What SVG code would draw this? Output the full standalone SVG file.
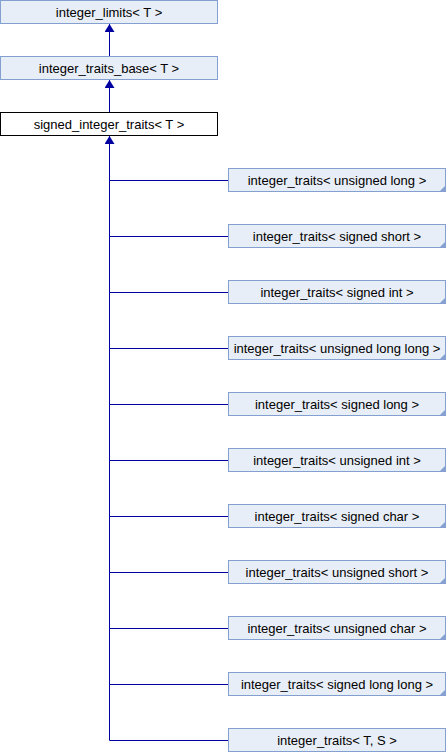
<svg xmlns="http://www.w3.org/2000/svg" width="446" height="752" viewBox="0 0 446 752">
<style>
.n{fill:#E8EEF7;stroke:#84A0D0;stroke-width:1}
.w{fill:#FFFFFF;stroke:#000000;stroke-width:1}
.c{fill:#84A0D0;stroke:none}
.t{font-family:"Liberation Sans",Arial,sans-serif;font-size:13px;fill:#000000;text-anchor:middle}
.e{fill:none;stroke:#0000A0;stroke-width:1}
</style>
<defs>
<marker id="a" viewBox="0 0 8 10" refX="8" refY="5" markerWidth="8" markerHeight="10" markerUnits="userSpaceOnUse" orient="auto">
<path d="M0,0 L8,5 L0,10 Z" fill="#0000A0"/>
</marker>
</defs>
<rect width="446" height="752" fill="#FFFFFF"/>
<g id="connectors">
<path class="e" d="M109.5,56 V24" marker-end="url(#a)"/>
<path class="e" d="M109.5,112 V80" marker-end="url(#a)"/>
<path class="e" d="M109.5,740.5 V136" marker-end="url(#a)"/>
<path class="e" d="M109.5,180.5 H228 M109.5,236.5 H228 M109.5,292.5 H228 M109.5,348.5 H228 M109.5,404.5 H228 M109.5,460.5 H228 M109.5,516.5 H228 M109.5,572.5 H228 M109.5,628.5 H228 M109.5,684.5 H228 M109.5,740.5 H228"/>
</g>
<g id="integer_limits">
<rect class="n" x="0.5" y="0.5" width="217" height="23"/>
<text class="t" x="109" y="16.5">integer_limits&lt; T &gt;</text>
</g>
<g id="integer_traits_base">
<rect class="n" x="0.5" y="56.5" width="217" height="23"/>
<text class="t" x="109" y="72.5">integer_traits_base&lt; T &gt;</text>
</g>
<g id="signed_integer_traits">
<rect class="w" x="0.5" y="112.5" width="217" height="23"/>
<text class="t" x="109" y="128.5">signed_integer_traits&lt; T &gt;</text>
</g>
<g id="it_unsigned_long">
<rect class="n" x="228.5" y="168.5" width="217" height="23"/>
<path class="c" d="M445,186 V191 H440 Z"/>
<text class="t" x="337" y="184.5">integer_traits&lt; unsigned long &gt;</text>
</g>
<g id="it_signed_short">
<rect class="n" x="228.5" y="224.5" width="217" height="23"/>
<path class="c" d="M445,242 V247 H440 Z"/>
<text class="t" x="337" y="240.5">integer_traits&lt; signed short &gt;</text>
</g>
<g id="it_signed_int">
<rect class="n" x="228.5" y="280.5" width="217" height="23"/>
<path class="c" d="M445,298 V303 H440 Z"/>
<text class="t" x="337" y="296.5">integer_traits&lt; signed int &gt;</text>
</g>
<g id="it_unsigned_long_long">
<rect class="n" x="228.5" y="336.5" width="217" height="23"/>
<path class="c" d="M445,354 V359 H440 Z"/>
<text class="t" x="337" y="352.5">integer_traits&lt; unsigned long long &gt;</text>
</g>
<g id="it_signed_long">
<rect class="n" x="228.5" y="392.5" width="217" height="23"/>
<path class="c" d="M445,410 V415 H440 Z"/>
<text class="t" x="337" y="408.5">integer_traits&lt; signed long &gt;</text>
</g>
<g id="it_unsigned_int">
<rect class="n" x="228.5" y="448.5" width="217" height="23"/>
<path class="c" d="M445,466 V471 H440 Z"/>
<text class="t" x="337" y="464.5">integer_traits&lt; unsigned int &gt;</text>
</g>
<g id="it_signed_char">
<rect class="n" x="228.5" y="504.5" width="217" height="23"/>
<path class="c" d="M445,522 V527 H440 Z"/>
<text class="t" x="337" y="520.5">integer_traits&lt; signed char &gt;</text>
</g>
<g id="it_unsigned_short">
<rect class="n" x="228.5" y="560.5" width="217" height="23"/>
<path class="c" d="M445,578 V583 H440 Z"/>
<text class="t" x="337" y="576.5">integer_traits&lt; unsigned short &gt;</text>
</g>
<g id="it_unsigned_char">
<rect class="n" x="228.5" y="616.5" width="217" height="23"/>
<path class="c" d="M445,634 V639 H440 Z"/>
<text class="t" x="337" y="632.5">integer_traits&lt; unsigned char &gt;</text>
</g>
<g id="it_signed_long_long">
<rect class="n" x="228.5" y="672.5" width="217" height="23"/>
<path class="c" d="M445,690 V695 H440 Z"/>
<text class="t" x="337" y="688.5">integer_traits&lt; signed long long &gt;</text>
</g>
<g id="it_T_S">
<rect class="n" x="228.5" y="728.5" width="217" height="23"/>
<text class="t" x="337" y="744.5">integer_traits&lt; T, S &gt;</text>
</g>
</svg>
